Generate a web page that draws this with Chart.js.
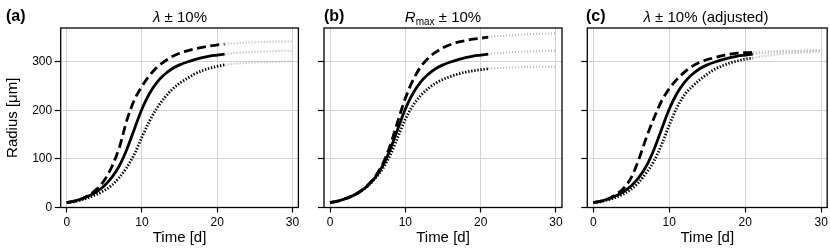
<!DOCTYPE html>
<html>
<head>
<meta charset="utf-8">
<script src="https://cdn.jsdelivr.net/npm/chart.js@4"></script>
<style>
  body { margin: 0; background: #fff; }
  #wrap { position: relative; width: 830px; height: 251px; overflow: hidden; font-family: "Liberation Sans", Arial, sans-serif; color: #000; }
  canvas { position: absolute; top: 0; }
  .tag { position: absolute; top: 8px; font-size: 16px; font-weight: bold; line-height: 16px; }
  .ttl { position: absolute; top: 9px; font-size: 15px; line-height: 15px; text-align: center; white-space: nowrap; }
  .ttl sub { font-size: 10px; vertical-align: -3px; line-height: 0; }
</style>
</head>
<body>
<div id="wrap">
  <canvas id="panelA" width="302" height="251" style="left:0px"></canvas>
  <canvas id="panelB" width="263" height="251" style="left:302px"></canvas>
  <canvas id="panelC" width="265" height="251" style="left:565px"></canvas>

  <div class="tag" style="left:6px">(a)</div>
  <div class="ttl" style="left:61px;width:238px"><i>λ</i> ± 10%</div>
  <div class="tag" style="left:324px">(b)</div>
  <div class="ttl" style="left:324px;width:238px"><i>R</i><sub>max</sub> ± 10%</div>
  <div class="tag" style="left:586px">(c)</div>
  <div class="ttl" style="left:587px;width:238px"><i>λ</i> ± 10% (adjusted)</div>
</div>

<script>
// time points (days)
const days = [0, 1, 2, 3, 4, 5, 6, 7, 8, 9, 10, 11, 12, 13, 14, 15, 16, 17, 18, 19, 20, 21];
const tailDays = [21, 22, 23, 24, 25, 26, 27, 28, 29, 30];
const xTicks = [0, 10, 20, 30];
const yTicks = [0, 100, 200, 300];

// baseline model (solid line, same in every panel)
const baseR = [10, 13, 18, 24, 33, 45, 62, 86, 120, 162, 203, 235, 258, 274, 286, 294, 300, 305, 309, 312, 314, 316];
const baseTail = [316, 318, 319, 320, 321, 321.5, 322, 322.5, 323, 323];

// (a) lambda +/- 10%
const aDash = [10, 13, 18, 26, 38, 56, 84, 124, 180, 222, 250, 272, 289, 301, 311, 318, 323, 327, 330, 333, 335, 337];
const aDashTail = [337, 338, 339, 340, 340.5, 341, 341.5, 342, 342, 342];
const aDot = [10, 12, 16, 21, 27, 35, 46, 62, 83, 110, 145, 178, 205, 226, 243, 256, 266, 275, 282, 287, 291, 294];
const aDotTail = [294, 296, 297, 298, 299, 299.5, 300, 300.5, 301, 301];

// (b) Rmax +/- 10%
const bDash = [10, 13, 18, 24, 33, 46, 64, 90, 128, 178, 225, 262, 289, 307, 320, 329, 336, 341, 344, 347, 349, 351];
const bDashTail = [351, 353, 354, 355, 356, 357, 357.5, 358, 358.5, 359];
const bDot = [10, 13, 18, 24, 33, 44, 60, 80, 108, 145, 182, 210, 230, 245, 256, 264, 270, 275, 279, 282, 284, 286];
const bDotTail = [286, 287, 288, 288.5, 289, 289.5, 290, 290, 290, 290];

// (c) lambda +/- 10% (adjusted)
const cDash = [10, 13, 18, 27, 40, 62, 100, 145, 185, 220, 245, 264, 279, 291, 299, 305, 309, 313, 316, 318, 319, 320];
const cDashTail = [320, 321, 322, 322.5, 323, 323, 323.5, 324, 324, 324];
const cDot = [10, 12, 16, 21, 28, 38, 52, 72, 96, 130, 170, 206, 232, 249, 263, 275, 285, 292, 298, 302, 306, 308];
const cDotTail = [308, 311, 313, 315, 317, 318, 319, 320, 321, 322];

const FONT = '"Liberation Sans", Arial, sans-serif';

function pts(xs, ys) {
    return xs.map((x, i) => ({ x: x, y: ys[i] }));
}

function lineSet(xs, ys, style) {
    let ds = {
        data: pts(xs, ys),
        borderColor: '#000',
        borderWidth: 2.8,
        pointRadius: 0,
        fill: false,
        cubicInterpolationMode: 'monotone',
        borderCapStyle: 'butt'
    };
    if (style == 'dash') ds.borderDash = [9, 4.5];
    if (style == 'dot') ds.borderDash = [1.4, 1.7];
    if (style == 'tail') {
        ds.borderColor = '#b3b3b3';
        ds.borderWidth = 2;
        ds.borderDash = [1, 2];
    }
    return ds;
}

// draws the box round the plot area
const framePlugin = {
    id: 'frame',
    afterDatasetsDraw(chart) {
        const { ctx, chartArea: a } = chart;
        ctx.save();
        ctx.strokeStyle = '#000';
        ctx.lineWidth = 1.3;
        ctx.strokeRect(a.left, a.top, a.right - a.left, a.bottom - a.top);
        ctx.restore();
    }
};

function makePanel(id, dash, dashTail, dot, dotTail, yWidth, padRight, showY) {
    const datasets = [
        lineSet(tailDays, dashTail, 'tail'),
        lineSet(tailDays, baseTail, 'tail'),
        lineSet(tailDays, dotTail, 'tail'),
        lineSet(days, dot, 'dot'),
        lineSet(days, dash, 'dash'),
        lineSet(days, baseR, 'solid')
    ];
    return new Chart(document.getElementById(id).getContext('2d'), {
        type: 'line',
        data: { datasets: datasets },
        plugins: [framePlugin],
        options: {
            responsive: false,
            animation: false,
            layout: { padding: { top: 28, right: padRight, bottom: 0, left: 0 } },
            plugins: { legend: { display: false }, tooltip: { enabled: false } },
            scales: {
                x: {
                    type: 'linear',
                    min: -0.8,
                    max: 30.8,
                    afterBuildTicks: (s) => { s.ticks = xTicks.map((v) => ({ value: v })); },
                    ticks: { font: { family: FONT, size: 12 }, color: '#000', padding: 3, maxRotation: 0 },
                    grid: { color: '#d2d2d2', lineWidth: 1, tickColor: '#000', tickLength: 5, tickWidth: 1.2 },
                    border: { display: false },
                    title: { display: true, text: 'Time [d]', color: '#000', font: { family: FONT, size: 15 }, padding: { top: 0, bottom: 4 } },
                    afterFit: (s) => { s.height = 43.5; s.paddingLeft = 0; s.paddingRight = 0; }
                },
                y: {
                    min: 0,
                    max: 370,
                    afterBuildTicks: (s) => { s.ticks = yTicks.map((v) => ({ value: v })); },
                    ticks: { display: showY, font: { family: FONT, size: 12 }, color: '#000', padding: 2.5 },
                    grid: { color: '#d2d2d2', lineWidth: 1, tickColor: '#000', tickLength: 6, tickWidth: 1.2 },
                    border: { display: false },
                    title: { display: showY, text: 'Radius [μm]', color: '#000', font: { family: FONT, size: 15 }, padding: { top: 4, bottom: 0 } },
                    afterFit: (s) => { s.width = yWidth; s.paddingTop = 0; s.paddingBottom = 0; }
                }
            }
        }
    });
}

makePanel('panelA', aDash, aDashTail, aDot, aDotTail, 60.7, 3.6, true);
makePanel('panelB', bDash, bDashTail, bDot, bDotTail, 22, 3, false);
makePanel('panelC', cDash, cDashTail, cDot, cDotTail, 22.3, 2.8, false);
</script>
</body>
</html>
